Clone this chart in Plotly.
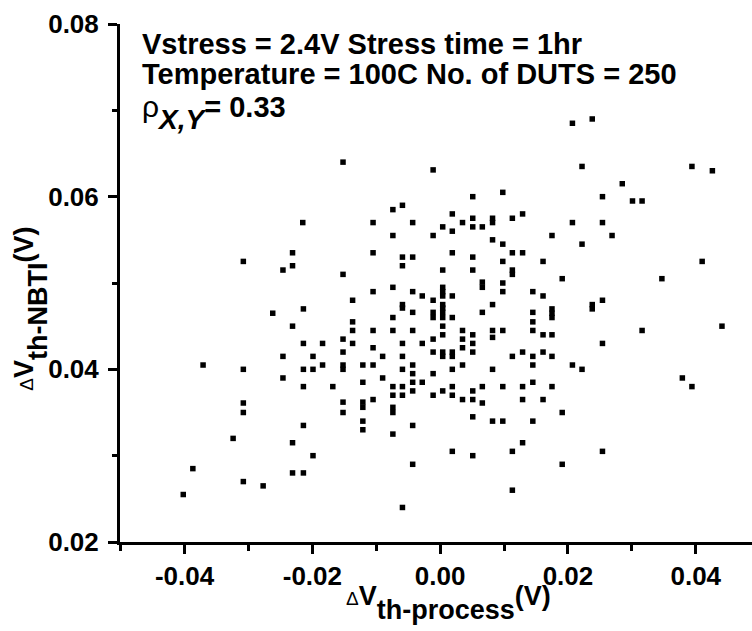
import plotly.graph_objects as go

# ---- data ----
x_vals = [
    # upper middle
    -0.0152, -0.0011, 0.0051, 0.0098, -0.0074, -0.0059, -0.0105, -0.0043, 0.0019, 0.0004,
    0.0035, 0.0019, 0.0051, 0.0051, 0.0066, 0.0082, 0.0082, 0.0113, 0.0129, -0.0074,
    -0.0011, 0.0082, 0.0098, -0.0105, -0.0059, -0.0043, 0.0019, 0.0051, 0.0113, 0.0129,
    # upper right
    0.0207, 0.0238, 0.0222, 0.0394, 0.0426, 0.0285, 0.0254, 0.0301, 0.0316, 0.0207,
    0.0254, 0.0175, 0.0269, 0.0222,
    # upper left
    -0.0215, -0.0231,
    # middle left
    -0.0308, -0.0246, -0.0231, -0.0214, -0.0262, -0.0231, -0.0214, -0.0184, -0.0246, -0.0199,
    -0.0371, -0.0308, -0.0214, -0.0199, -0.0184, -0.0246, -0.0214, -0.0168,
    # centre
    0.0098, -0.0059, -0.0152, 0.0004, 0.0051, 0.0113, 0.0113, 0.0066, 0.0066, 0.0098,
    0.0098, -0.0074, -0.0105, -0.0043, 0.0004, 0.0004, 0.0004, -0.0028, 0.0019, 0.0145,
    -0.0137, -0.0011, -0.0059, -0.0059, 0.0004, 0.0004, 0.0004, 0.0004, 0.0082, -0.0043,
    -0.0011, -0.0011, 0.0066, 0.0145, -0.0074, 0.0019, 0.0145, -0.0137, 0.0004, -0.0137,
    -0.0105, -0.0074, -0.0043, 0.0035, 0.0082, 0.0082, 0.0098, 0.0145, 0.0004, 0.0035,
    0.0051, -0.0152, -0.0011, -0.0137, -0.0105, -0.0059, -0.0028, 0.0035, 0.0051, -0.0152,
    -0.0090, -0.0059, -0.0011, 0.0004, 0.0004, 0.0019, 0.0019, 0.0051, 0.0113, 0.0129,
    0.0145, -0.0152, -0.0152, -0.0121, -0.0105, -0.0059, -0.0043, -0.0043, -0.0011, 0.0019,
    0.0035, 0.0082, 0.0145, -0.0121, -0.0090, -0.0074, -0.0074, -0.0059, -0.0059, -0.0043,
    -0.0043, -0.0028, -0.0011, 0.0004, 0.0019, 0.0019, 0.0051, 0.0051, 0.0066, 0.0098,
    0.0129, 0.0145, 0.0035, 0.0129, -0.0152, -0.0121, -0.0105, 0.0066,
    # lower middle
    -0.0152, -0.0121, -0.0074, -0.0074, -0.0121, -0.0121, -0.0074, -0.0043, 0.0051, 0.0082,
    0.0098, 0.0145, 0.0129, 0.0019, 0.0051, 0.0113, -0.0043, 0.0113, -0.0059,
    # lower left
    -0.0308, -0.0308, -0.0214, -0.0324, -0.0231, -0.0199, -0.0387, -0.0231, -0.0214, -0.0308,
    -0.0277, -0.0402,
    # middle right
    0.0161, 0.0410, 0.0191, 0.0347, 0.0161, 0.0254, 0.0175, 0.0175, 0.0175, 0.0238,
    0.0238, 0.0161, 0.0175, 0.0316, 0.0441, 0.0254, 0.0161, 0.0175, 0.0207, 0.0222,
    0.0379, 0.0394, 0.0175, 0.0161,
    # lower right
    0.0191, 0.0254, 0.0191,
]
y_vals = [
    0.0640, 0.0631, 0.0600, 0.0605, 0.0585, 0.0590, 0.0570, 0.0570, 0.0580, 0.0565,
    0.0570, 0.0560, 0.0575, 0.0565, 0.0565, 0.0575, 0.0570, 0.0575, 0.0580, 0.0555,
    0.0555, 0.0550, 0.0545, 0.0535, 0.0530, 0.0530, 0.0535, 0.0530, 0.0535, 0.0535,
    0.0685, 0.0690, 0.0635, 0.0635, 0.0630, 0.0615, 0.0600, 0.0595, 0.0595, 0.0570,
    0.0570, 0.0555, 0.0555, 0.0545,
    0.0570, 0.0535,
    0.0525, 0.0515, 0.0520, 0.0470, 0.0465, 0.0450, 0.0430, 0.0430, 0.0415, 0.0415,
    0.0405, 0.0400, 0.0400, 0.0400, 0.0405, 0.0390, 0.0380, 0.0380,
    0.0525, 0.0520, 0.0510, 0.0515, 0.0515, 0.0515, 0.0510, 0.0501, 0.0495, 0.0500,
    0.0490, 0.0495, 0.0490, 0.0490, 0.0495, 0.0490, 0.0485, 0.0485, 0.0485, 0.0490,
    0.0480, 0.0480, 0.0475, 0.0471, 0.0475, 0.0471, 0.0466, 0.0460, 0.0475, 0.0466,
    0.0466, 0.0460, 0.0466, 0.0466, 0.0460, 0.0460, 0.0455, 0.0455, 0.0450, 0.0445,
    0.0445, 0.0445, 0.0445, 0.0445, 0.0445, 0.0437, 0.0445, 0.0445, 0.0440, 0.0435,
    0.0440, 0.0435, 0.0435, 0.0430, 0.0425, 0.0430, 0.0430, 0.0425, 0.0430, 0.0420,
    0.0415, 0.0415, 0.0420, 0.0420, 0.0415, 0.0420, 0.0415, 0.0420, 0.0415, 0.0420,
    0.0415, 0.0405, 0.0400, 0.0405, 0.0405, 0.0400, 0.0405, 0.0395, 0.0395, 0.0400,
    0.0405, 0.0400, 0.0405, 0.0385, 0.0390, 0.0380, 0.0370, 0.0380, 0.0370, 0.0385,
    0.0375, 0.0385, 0.0370, 0.0375, 0.0380, 0.0370, 0.0375, 0.0365, 0.0380, 0.0380,
    0.0380, 0.0385, 0.0365, 0.0365, 0.0362, 0.0362, 0.0365, 0.0361,
    0.0350, 0.0356, 0.0356, 0.0350, 0.0340, 0.0330, 0.0325, 0.0335, 0.0345, 0.0340,
    0.0340, 0.0340, 0.0315, 0.0305, 0.0300, 0.0305, 0.0290, 0.0260, 0.0240,
    0.0361, 0.0350, 0.0335, 0.0320, 0.0315, 0.0300, 0.0285, 0.0280, 0.0280, 0.0270,
    0.0265, 0.0255,
    0.0525, 0.0525, 0.0505, 0.0505, 0.0485, 0.0480, 0.0470, 0.0465, 0.0460, 0.0475,
    0.0470, 0.0440, 0.0440, 0.0445, 0.0450, 0.0430, 0.0420, 0.0415, 0.0405, 0.0400,
    0.0390, 0.0380, 0.0380, 0.0365,
    0.0350, 0.0305, 0.0290,
]

x_tick_vals = [-0.04, -0.02, 0.00, 0.02, 0.04]
x_tick_text = ["-0.04", "-0.02", "0.00", "0.02", "0.04"]
y_tick_vals = [0.02, 0.04, 0.06, 0.08]
y_tick_text = ["0.02", "0.04", "0.06", "0.08"]

info_lines = [
    "Vstress = 2.4V Stress time = 1hr",
    "Temperature = 100C No. of DUTS = 250",
]


def sized(txt, px, normal=False):
    style = "font-size:%dpx" % px
    if normal:
        style += ";font-weight:normal"
    return "<span style='%s'>%s</span>" % (style, txt)


rho_text = (sized("\u03c1", 30, normal=True)
            + "<sub>" + sized("<i>X,Y</i>", 28) + "</sub>"
            + sized("= 0.33", 29))
x_title = (sized("\u0394", 19, normal=True) + sized("V", 27)
           + "<sub>" + sized("th-process", 27) + "</sub>" + sized("(V)", 27))
y_title = (sized("\u0394", 19, normal=True) + sized("V", 27)
           + "<sub>" + sized("th-NBTI", 27) + "</sub>" + sized("(V)", 27))

FONT = "Liberation Sans, Arial, Helvetica, sans-serif"

fig = go.Figure(
    go.Scatter(
        x=x_vals, y=y_vals, mode="markers",
        marker=dict(symbol="square", size=5.5, color="black", line=dict(width=0)),
        hoverinfo="x+y",
    )
)

fig.update_layout(
    width=752, height=631,
    margin=dict(l=120, r=0, t=24, b=89),
    paper_bgcolor="white", plot_bgcolor="white",
    showlegend=False,
    font=dict(family=FONT, color="black"),
)

axis_common = dict(
    showline=True, linewidth=3, linecolor="black",
    ticks="outside", ticklen=9, tickwidth=3, tickcolor="black",
    showgrid=False, zeroline=False,
    tickfont=dict(family=FONT, size=26, color="black", weight="bold"),
)

fig.update_xaxes(
    range=[-0.0501, 0.0488],
    tickmode="array", tickvals=x_tick_vals, ticktext=x_tick_text,
    minor=dict(tickmode="linear", tick0=0, dtick=0.01, ticks="outside",
               ticklen=6, tickwidth=2.5, tickcolor="black", showgrid=False),
    **axis_common,
)
fig.update_yaxes(
    range=[0.02, 0.08],
    tickmode="array", tickvals=y_tick_vals, ticktext=y_tick_text,
    minor=dict(tickmode="linear", tick0=0, dtick=0.01, ticks="outside",
               ticklen=5, tickwidth=2.5, tickcolor="black", showgrid=False),
    ticklabelstandoff=4,
    **axis_common,
)

ann_font = dict(family=FONT, size=29, color="black", weight="bold")
fig.add_annotation(text=info_lines[0], xref="paper", yref="paper",
                   x=0.031, y=0.962, xanchor="left", yanchor="middle",
                   showarrow=False, font=ann_font)
fig.add_annotation(text=info_lines[1], xref="paper", yref="paper",
                   x=0.031, y=0.904, xanchor="left", yanchor="middle",
                   showarrow=False, font=ann_font)
# large base size -> deeper subscript shift; visible glyph sizes set by spans
fig.add_annotation(text=rho_text, xref="paper", yref="paper",
                   x=0.031, y=0.83, xanchor="left", yanchor="middle",
                   showarrow=False, font=dict(family=FONT, size=55, color="black", weight="bold"))
fig.add_annotation(text=x_title, xref="paper", yref="paper",
                   x=0.52, y=-0.117, xanchor="center", yanchor="middle",
                   showarrow=False, font=dict(family=FONT, size=65, color="black", weight="bold"))
fig.add_annotation(text=y_title, xref="paper", yref="paper",
                   x=-0.141, y=0.45, xanchor="center", yanchor="middle", textangle=-90,
                   showarrow=False, font=dict(family=FONT, size=65, color="black", weight="bold"))

fig.write_html("out.html")
